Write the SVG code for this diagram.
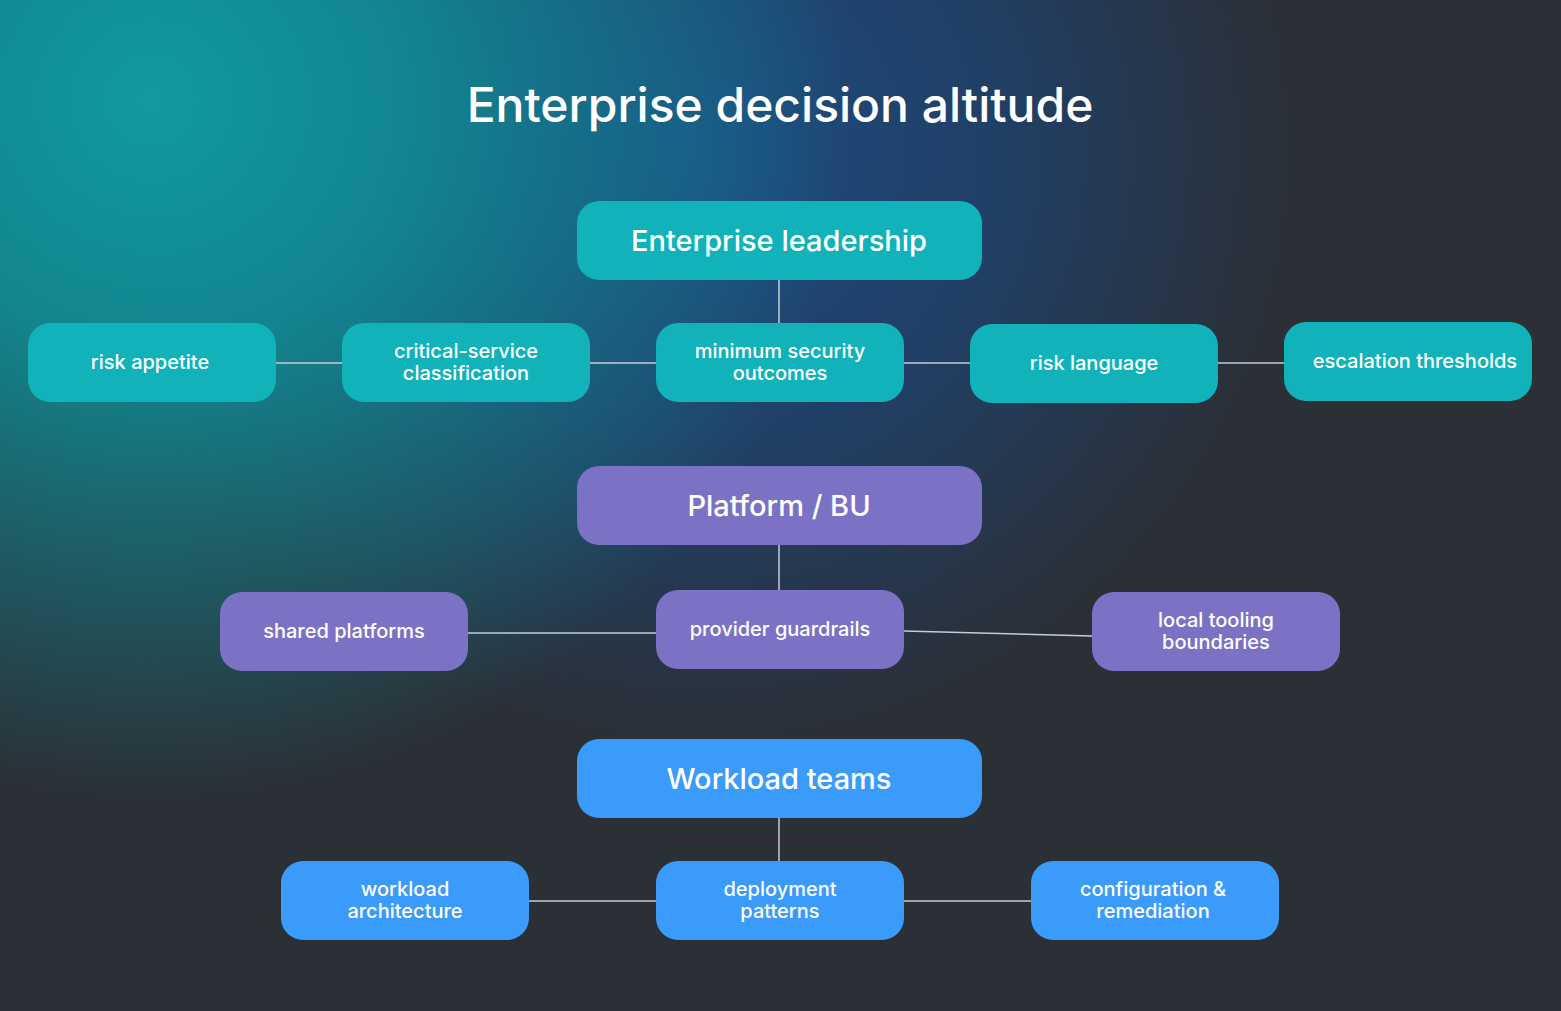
<svg xmlns="http://www.w3.org/2000/svg" width="1561" height="1011" viewBox="0 0 1561 1011">
<defs>
<radialGradient id="g1" cx="150" cy="100" r="700" gradientUnits="userSpaceOnUse">
<stop offset="0" stop-color="#119aa0"/><stop offset="0.35" stop-color="#0f8f98" stop-opacity="0.9"/><stop offset="1" stop-color="#0f8f98" stop-opacity="0"/>
</radialGradient>
<radialGradient id="g2" cx="700" cy="150" r="600" gradientUnits="userSpaceOnUse">
<stop offset="0" stop-color="#1a4f8a" stop-opacity="0.9"/><stop offset="0.5" stop-color="#1a4a85" stop-opacity="0.6"/><stop offset="1" stop-color="#1a4a85" stop-opacity="0"/>
</radialGradient>
<style>
.t{font-family:Inter,"Liberation Sans",sans-serif;fill:#fff;text-anchor:middle;font-weight:500}
.s{font-size:20px}.b{font-size:29px}
.c1{fill:#12b2ba}.c2{fill:#7b72c6}.c3{fill:#3a9bfb}
.l{stroke:#c4ccd6;stroke-width:1.5;fill:none}
</style>
</defs>
<rect width="1561" height="1011" fill="#2b2f36"/>
<rect width="1561" height="1011" fill="url(#g2)"/>
<rect width="1561" height="1011" fill="url(#g1)"/>
<text class="t" x="780" y="122" font-size="48">Enterprise decision altitude</text>
<g id="connectors">
<path class="l" d="M779 280V323M276 363H342M590 363H656M904 363H970M1218 363H1284M779 545V590M468 633H656M904 631L1092 636M779 818V861M529 901H656M904 901H1031"/>
</g>
<g id="enterprise"><rect class="c1" x="577" y="201" width="405" height="79" rx="22"/><text class="t b" x="779" y="251">Enterprise leadership</text></g>
<g id="risk-appetite"><rect class="c1" x="28" y="323" width="248" height="79" rx="22"/><text class="t s" x="150" y="369">risk appetite</text></g>
<g id="critical"><rect class="c1" x="342" y="323" width="248" height="79" rx="22"/><text class="t s" x="466" y="358">critical-service</text><text class="t s" x="466" y="380">classification</text></g>
<g id="minimum"><rect class="c1" x="656" y="323" width="248" height="79" rx="22"/><text class="t s" x="780" y="358">minimum security</text><text class="t s" x="780" y="380">outcomes</text></g>
<g id="risk-language"><rect class="c1" x="970" y="324" width="248" height="79" rx="22"/><text class="t s" x="1094" y="370">risk language</text></g>
<g id="escalation"><rect class="c1" x="1284" y="322" width="248" height="79" rx="22"/><text class="t s" x="1415" y="368">escalation thresholds</text></g>
<g id="platform"><rect class="c2" x="577" y="466" width="405" height="79" rx="22"/><text class="t b" x="779" y="516">Platform / BU</text></g>
<g id="shared"><rect class="c2" x="220" y="592" width="248" height="79" rx="22"/><text class="t s" x="344" y="638">shared platforms</text></g>
<g id="provider"><rect class="c2" x="656" y="590" width="248" height="79" rx="22"/><text class="t s" x="780" y="636">provider guardrails</text></g>
<g id="local"><rect class="c2" x="1092" y="592" width="248" height="79" rx="22"/><text class="t s" x="1216" y="627">local tooling</text><text class="t s" x="1216" y="649">boundaries</text></g>
<g id="workload-teams"><rect class="c3" x="577" y="739" width="405" height="79" rx="22"/><text class="t b" x="779" y="789">Workload teams</text></g>
<g id="workload-arch"><rect class="c3" x="281" y="861" width="248" height="79" rx="22"/><text class="t s" x="405" y="896">workload</text><text class="t s" x="405" y="918">architecture</text></g>
<g id="deployment"><rect class="c3" x="656" y="861" width="248" height="79" rx="22"/><text class="t s" x="780" y="896">deployment</text><text class="t s" x="780" y="918">patterns</text></g>
<g id="config"><rect class="c3" x="1031" y="861" width="248" height="79" rx="22"/><text class="t s" x="1153" y="896">configuration &amp;</text><text class="t s" x="1153" y="918">remediation</text></g>
</svg>
